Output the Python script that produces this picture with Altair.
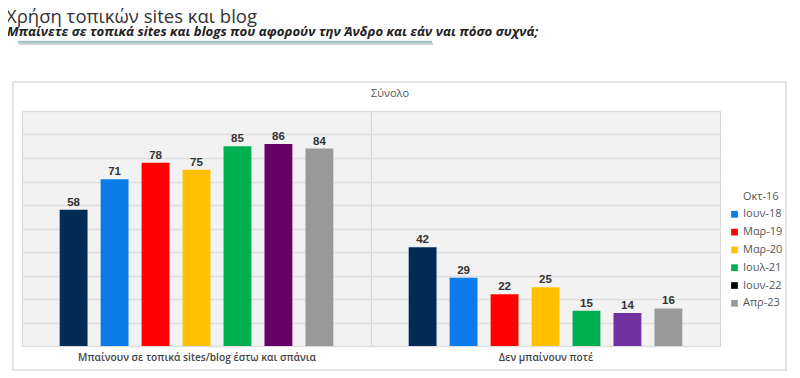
import altair as alt
import pandas as pd

groups = ["Μπαίνουν σε τοπικά sites/blog έστω και σπάνια", "Δεν μπαίνουν ποτέ"]
series = ["Οκτ-16", "Ιουν-18", "Μαρ-19", "Μαρ-20", "Ιουλ-21", "Ιουν-22", "Απρ-23"]
values_g1 = [58, 71, 78, 75, 85, 86, 84]
values_g2 = [42, 29, 22, 25, 15, 14, 16]
colors_g1 = ["#012C55", "#0A7BE8", "#FF0000", "#FFC000", "#00B050", "#660066", "#999999"]
colors_g2 = ["#012C55", "#0A7BE8", "#FF0000", "#FFC000", "#00B050", "#7030A0", "#999999"]
legend_colors = ["#FFFFFF", "#0A7BE8", "#FF0000", "#FFC000", "#00B050", "#000000", "#999999"]

title_text = "Χρήση τοπικών sites και blog"
subtitle_text = "Μπαίνετε σε τοπικά sites και blogs που αφορούν την Άνδρο και εάν ναι πόσο συχνά;"
panel_text = "Σύνολο"

rows = []
for g, vals, cols in [(groups[0], values_g1, colors_g1), (groups[1], values_g2, colors_g2)]:
    for s, v, c in zip(series, vals, cols):
        rows.append({"group": g, "series": s, "value": v, "color": c})
df = pd.DataFrame(rows)

FONT = "Open Sans"
one = pd.DataFrame({"k": [0]})

x_axis = alt.Axis(grid=True, tickBand="extent", ticks=False, domain=False,
                  labelAngle=0, labelFontSize=10.2, labelFont=FONT, labelLimit=0,
                  labelFontWeight=600, labelColor="#444444", labelPadding=6,
                  gridColor="#d6d6d6", gridWidth=1)
y_axis = alt.Axis(grid=True, labels=False, ticks=False, domain=False,
                  values=list(range(0, 101, 10)),
                  gridColor="#dedede", gridWidth=1.5)
x_enc = alt.X("group:N", sort=groups, title=None,
              scale=alt.Scale(paddingInner=0, paddingOuter=0), axis=x_axis)
xo_enc = alt.XOffset("series:N", sort=series,
                     scale=alt.Scale(paddingInner=0.32, paddingOuter=0.92))
y_enc = alt.Y("value:Q", title=None, scale=alt.Scale(domain=[0, 100], nice=False),
              axis=y_axis)

box = alt.Chart(one).mark_rect(fillOpacity=0, stroke="#dadada", strokeWidth=1.5).encode(
    x=alt.value(-9), x2=alt.value(764), y=alt.value(-29), y2=alt.value(259))

bars = alt.Chart(df).mark_bar().encode(
    x=x_enc, xOffset=xo_enc, y=y_enc,
    fill=alt.Fill("color:N", scale=None),
)

labels = alt.Chart(df).mark_text(dy=-4, baseline="alphabetic", font="Liberation Sans",
                                 fontWeight="bold", fontSize=11.5, color="#333333").encode(
    x=x_enc, xOffset=xo_enc, y=y_enc,
    text=alt.Text("value:Q"),
)

legend_layer = alt.Chart(df).mark_square(opacity=0).encode(
    x=x_enc, y=y_enc,
    color=alt.Color("series:N", sort=series,
                    scale=alt.Scale(domain=series, range=legend_colors),
                    legend=alt.Legend(title=None, orient="none", legendX=707, legendY=80,
                                      symbolType="square", symbolSize=45, symbolOpacity=1,
                                      symbolStrokeWidth=0, labelFont=FONT, labelFontSize=11,
                                      labelColor="#555555", rowPadding=5.8, labelOffset=3)),
)

title = alt.Chart(one).mark_text(align="left", baseline="alphabetic", font=FONT,
                                 fontSize=18.5, color="#333333").encode(
    x=alt.value(-16), y=alt.value(-88), text=alt.value(title_text))
subtitle = alt.Chart(one).mark_text(align="left", baseline="alphabetic", font=FONT,
                                    fontSize=13.2, fontWeight="bold", fontStyle="italic",
                                    color="#222222").encode(
    x=alt.value(-15), y=alt.value(-75.5), text=alt.value(subtitle_text))
shadow = alt.Chart(one).mark_rule(color="#d4d4d4", strokeWidth=2).encode(
    x=alt.value(-3), x2=alt.value(411), y=alt.value(-67))
underline = alt.Chart(one).mark_rule(color="#a5c3c9", strokeWidth=2.5).encode(
    x=alt.value(-4), x2=alt.value(410), y=alt.value(-69))
panel = alt.Chart(one).mark_text(align="center", baseline="middle", font=FONT,
                                 fontSize=11, color="#555555").encode(
    x=alt.value(368), y=alt.value(-17), text=alt.value(panel_text))

chart = alt.layer(box, bars, labels, legend_layer, title, subtitle, shadow, underline, panel).resolve_scale(
    color="independent", fill="independent"
).properties(
    width=698, height=235, autosize="none",
    padding={"left": 14, "top": 103, "right": 70, "bottom": 30},
).configure_view(fill="#f2f2f2", stroke="#d6d6d6", strokeWidth=1)

chart.save("out.html", embed_options={"renderer": "svg", "actions": False})
